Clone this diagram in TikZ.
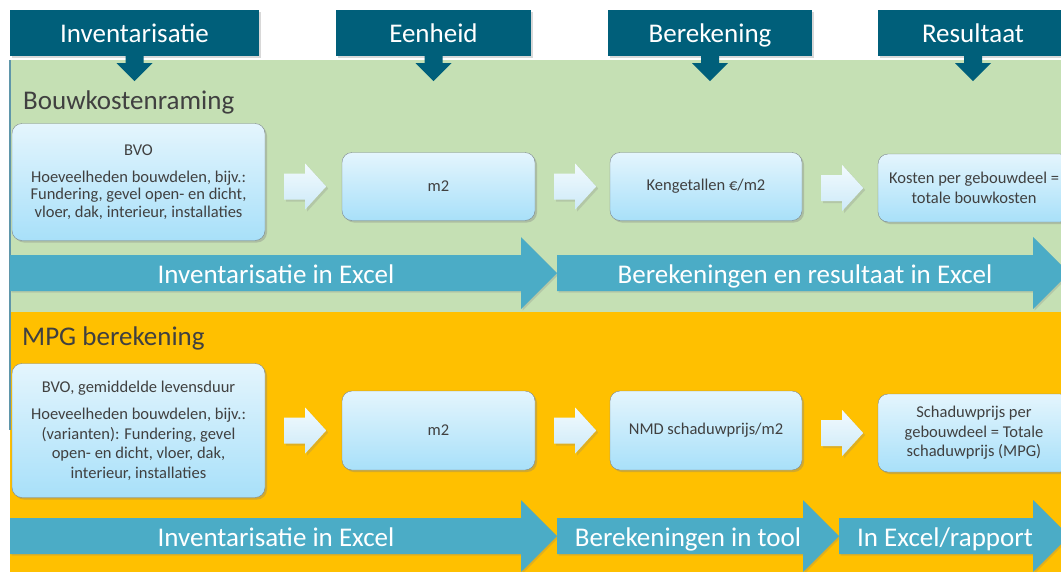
\documentclass[tikz,border=0pt]{standalone}
\usepackage{fontspec}
\setmainfont{Carlito}
\usetikzlibrary{shadows}
\definecolor{kopkleur}{RGB}{0,95,122}
\definecolor{groen}{RGB}{197,224,180}
\definecolor{oranje}{RGB}{255,192,0}
\definecolor{balkkleur}{RGB}{75,172,198}
\definecolor{vaktop}{RGB}{228,245,253}
\definecolor{vakbodem}{RGB}{168,224,249}
\definecolor{randkleur}{RGB}{125,135,140}
\definecolor{tekstkleur}{RGB}{64,64,64}
\definecolor{bloktop}{RGB}{242,250,254}
\definecolor{blokbodem}{RGB}{205,234,248}
\definecolor{randlijn}{RGB}{95,150,170}

\begin{document}
\begin{tikzpicture}[x=1pt,y=-1pt,
  kop/.style = {fill=kopkleur, text=white, font=\fontsize{27}{32}\selectfont, minimum height=46, inner sep=0, text height=20, text depth=1, drop shadow={shadow xshift=1.5pt, shadow yshift=-1.5pt, opacity=.3}},
  vak/.style = {draw=randkleur, rounded corners=10, top color=vaktop, bottom color=vakbodem, text=tekstkleur, align=center, inner sep=0, font=\fontsize{16.5}{19.5}\selectfont, drop shadow={shadow xshift=2pt, shadow yshift=-2pt, opacity=.35}},
  blok/.style = {top color=bloktop, bottom color=blokbodem, drop shadow={shadow xshift=2pt, shadow yshift=-2pt, opacity=.25}},
  balk/.style = {fill=balkkleur, drop shadow={shadow xshift=1.5pt, shadow yshift=-1.5pt, opacity=.25}},
  balktekst/.style = {text=white, font=\fontsize{27}{32}\selectfont, inner sep=0, anchor=base},
  titel/.style = {text=tekstkleur, font=\fontsize{27}{32}\selectfont, inner sep=0, anchor=base west}]
\useasboundingbox (0,0) rectangle (1061,571); \clip (0,0) rectangle (1061,571);
\fill[white] (0,0) rectangle (1061,571);
% panels
\fill[groen] (10,60) rectangle (1070,312); \fill[oranje] (10,312) rectangle (1070,575);
\draw[randlijn, line width=1.5] (10,60) -- (10,430);
\node[titel] (t1) at (23,109) {Bouwkostenraming}; \node[titel] (t2) at (22,345) {MPG berekening};
% kolomkoppen
\node[kop, minimum width=249] (k1) at (134.5,33) {Inventarisatie}; \node[kop, minimum width=195] (k2) at (433.5,33) {Eenheid};
\node[kop, minimum width=204] (k3) at (710,33) {Berekening}; \node[kop, minimum width=190] (k4) at (973,33) {Resultaat};
\foreach \k in {k1,k2,k3,k4} \fill[kopkleur] (\k.south) ++(-9,-1) -- ++(0,8) -- ++(-9,0) -- ++(18,18) -- ++(18,-18) -- ++(-9,0) -- ++(0,-8) -- cycle;
% bouwkosten
\node[vak, minimum width=253, minimum height=117, font=\fontsize{16.5}{17.5}\selectfont] (b1) at (138.5,182) {BVO\\[9pt]Hoeveelheden bouwdelen, bijv.:\\Fundering, gevel open- en dicht,\\vloer, dak, interieur, installaties};
\node[vak, minimum width=193, minimum height=68] (b2) at (438.5,186.5) {m2};
\node[vak, minimum width=192, minimum height=68] (b3) at (706,186.5) {Kengetallen €/m2};
\node[vak, minimum width=192, minimum height=68] (b4) at (974,188) {Kosten per gebouwdeel =\\totale bouwkosten};
% mpg
\node[vak, minimum width=253, minimum height=134] (c1) at (138.5,430.5) {BVO, gemiddelde levensduur\\[8pt]Hoeveelheden bouwdelen, bijv.:\\(varianten): Fundering, gevel\\open- en dicht, vloer, dak,\\interieur, installaties};
\node[vak, minimum width=193, minimum height=79] (c2) at (438.5,430.5) {m2};
\node[vak, minimum width=192, minimum height=79] (c3) at (706,430.5) {NMD schaduwprijs/m2};
\node[vak, minimum width=192, minimum height=78] (c4) at (974,433) {Schaduwprijs per\\gebouwdeel = Totale\\schaduwprijs (MPG)};
\foreach \a/\b in {b1/b2,b2/b3,b3/b4,c1/c2,c2/c3,c3/c4}
  \path[blok] (\a.east |- \b.west) ++(19,-13) -- ++(21,0) -- ++(0,-10) -- ++(21,23) -- ++(-21,23) -- ++(0,-10) -- ++(-21,0) -- cycle;
% balken
\path[balk] (10,255) -- (521,255) -- (521,237) -- (557,273) -- (521,309) -- (521,291) -- (10,291) -- cycle;
\path[balk] (557,255) -- (1033,255) -- (1033,237) -- (1069,273) -- (1033,309) -- (1033,291) -- (557,291) -- cycle;
\path[balk] (10,518) -- (521,518) -- (521,500) -- (557,536) -- (521,572) -- (521,554) -- (10,554) -- cycle;
\path[balk] (557,518) -- (803,518) -- (803,500) -- (839,536) -- (803,572) -- (803,554) -- (557,554) -- cycle;
\path[balk] (839,518) -- (1033,518) -- (1033,500) -- (1069,536) -- (1033,572) -- (1033,554) -- (839,554) -- cycle;
\node[balktekst] (p1) at (276,283) {Inventarisatie in Excel}; \node[balktekst] (p2) at (805,283) {Berekeningen en resultaat in Excel};
\node[balktekst] (p3) at (276,546) {Inventarisatie in Excel}; \node[balktekst] (p4) at (688,546) {Berekeningen in tool};
\node[balktekst] (p5) at (945,546) {In Excel/rapport};
\end{tikzpicture}
\end{document}
